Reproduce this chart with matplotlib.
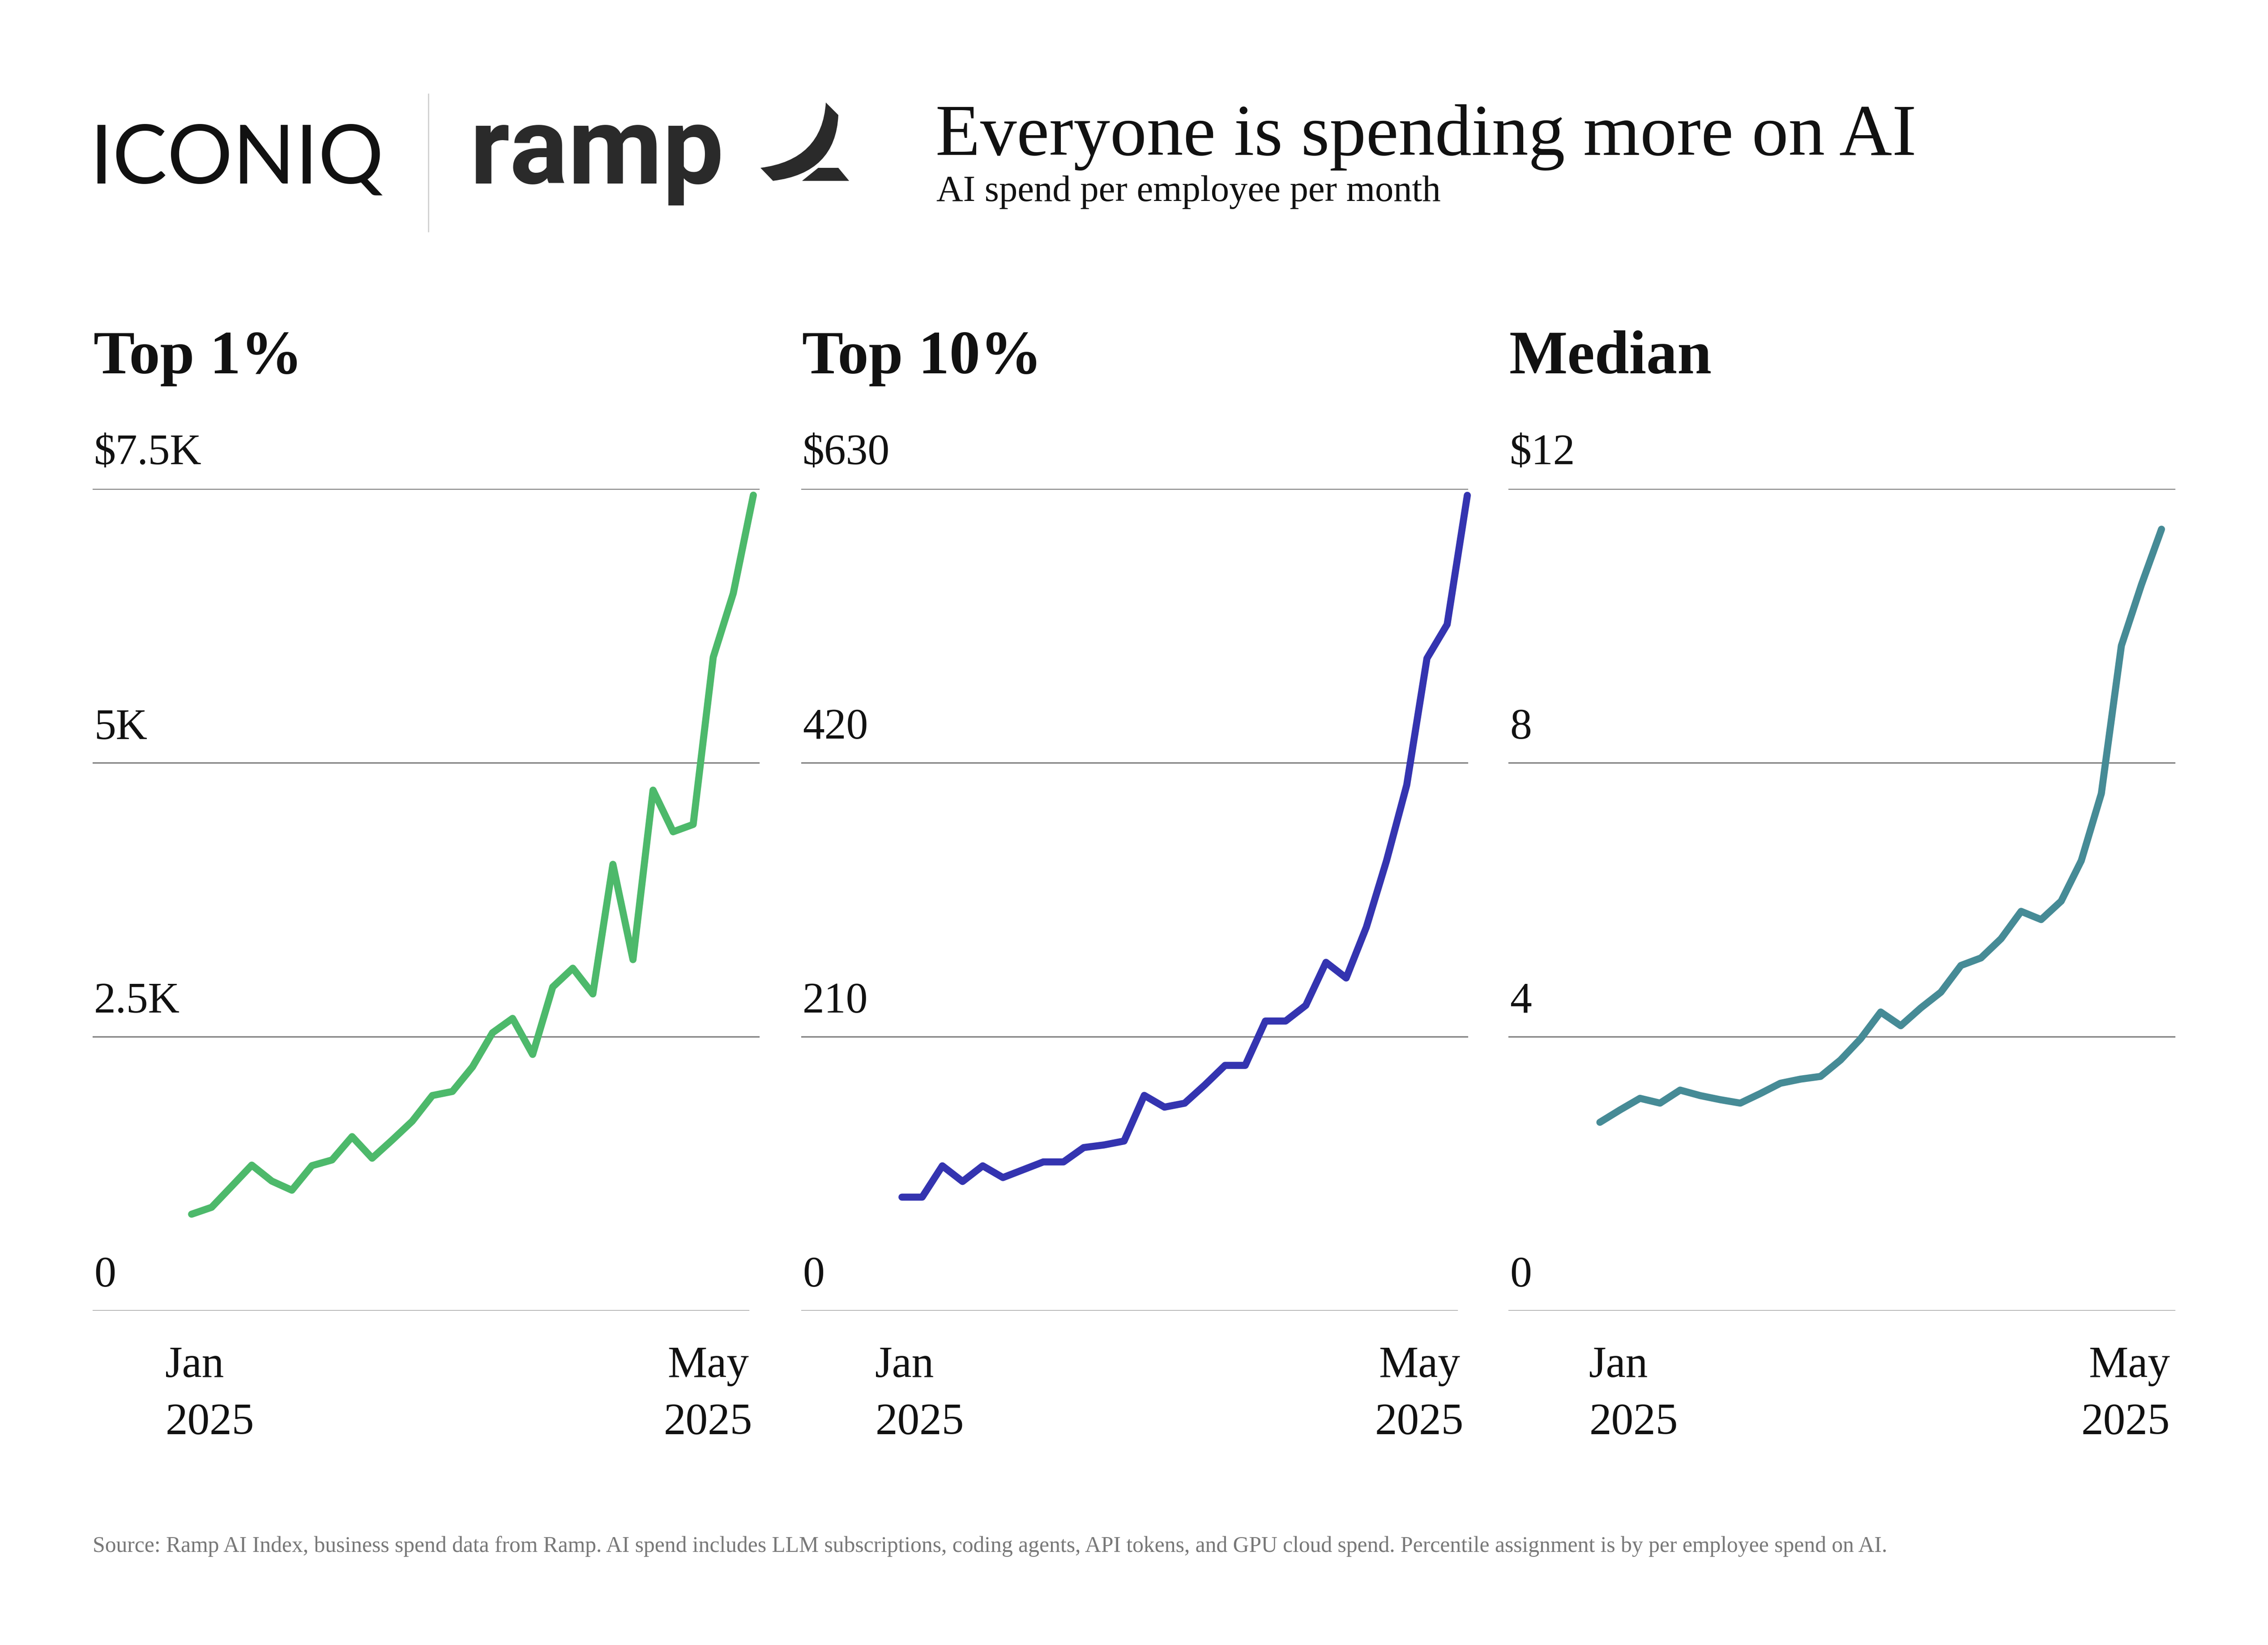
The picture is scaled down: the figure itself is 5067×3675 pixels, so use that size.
import numpy as np
import matplotlib.pyplot as plt
import matplotlib.transforms as mtransforms
from matplotlib.path import Path
from matplotlib.patches import PathPatch, Polygon

W, H = 5067, 3675
DPI = 325

# monthly AI spend per employee
top1 = [880, 943, 1135, 1328, 1182, 1099, 1323, 1375, 1588, 1391, 1557, 1729, 1963, 2000, 2224,
        2536, 2667, 2338, 2953, 3125, 2890, 4073, 3203, 4750, 4370, 4437, 5963, 6547, 7442]
top10 = [87, 87, 111, 99, 111, 102, 108, 114, 114, 125, 127, 130, 165, 156, 159,
         173, 188, 188, 222, 222, 234, 267, 255, 294, 345, 403, 500, 526, 625]
median = [2.75, 2.93, 3.10, 3.03, 3.22, 3.14, 3.08, 3.03, 3.17, 3.32, 3.38, 3.42, 3.66, 3.97, 4.36,
          4.16, 4.42, 4.65, 5.04, 5.15, 5.43, 5.83, 5.71, 5.98, 6.57, 7.55, 9.71, 10.6, 11.41]

series = [top1, top10, median]
panel_titles = ["Top 1%", "Top 10%", "Median"]
ytick_vals = [[0, 2500, 5000, 7500], [0, 210, 420, 630], [0, 4, 8, 12]]
ytick_labels = [["0", "2.5K", "5K", "$7.5K"], ["0", "210", "420", "$630"], ["0", "4", "8", "$12"]]
x_start = ("Jan", "2025")
x_end = ("May", "2025")
colors = ["#4db96b", "#3434b0", "#468b96"]

title = "Everyone is spending more on AI"
subtitle = "AI spend per employee per month"
source = ("Source: Ramp AI Index, business spend data from Ramp. AI spend includes LLM subscriptions, "
          "coding agents, API tokens, and GPU cloud spend. Percentile assignment is by per employee spend on AI.")

SERIF = "Liberation Serif"
INK = "#111111"


def fx(px):
    return px / W


def fy(py):
    return 1 - py / H


fig = plt.figure(figsize=(W / DPI, H / DPI), dpi=DPI)
fig.patch.set_facecolor("white")

# ---- header: logos + title
fig.text(fx(200), fy(410), "ICONIQ", family="Lato", fontsize=40.5, color=INK, va="baseline")
fig.add_artist(plt.Line2D([fx(957), fx(957)], [fy(210), fy(517)], color="#cfcfcf", lw=0.6))
fig.text(fx(1050), fy(410), "ramp", family="Roboto", weight="bold", fontsize=54,
         color="#2a2a2a", va="baseline")

logo = "#2a2a2a"
crescent = [(1845, 229), (1873, 257), (1867, 387), (1727, 404), (1699, 375), (1837, 357), (1845, 229)]
codes = [Path.MOVETO, Path.LINETO, Path.CURVE3, Path.CURVE3, Path.LINETO, Path.CURVE3, Path.CURVE3]
path = Path([(fx(a), fy(b)) for a, b in crescent], codes)
fig.add_artist(PathPatch(path, transform=fig.transFigure, facecolor=logo, edgecolor="none"))
trap = [(1792, 404), (1828, 375), (1873, 375), (1897, 404)]
fig.add_artist(Polygon([(fx(a), fy(b)) for a, b in trap], closed=True,
                       transform=fig.transFigure, facecolor=logo, edgecolor="none"))

fig.text(fx(2090), fy(346), title, family=SERIF, fontsize=36.2, color=INK, va="baseline")
fig.text(fx(2092), fy(449), subtitle, family=SERIF, fontsize=18.3, color=INK, va="baseline")

# ---- panels
lefts = [207, 1790, 3370]
ax_w = 1490
top_y, bot_y = 1092, 2928
xlims = [(-4.93, 28.31), (-4.99, 28.04), (-4.56, 28.69)]
base_end = [0.983, 0.983, 1.0]
start_frac = [0.109, 0.111, 0.121]
end_frac = [0.923, 0.927, 0.992]
end_ha = ["center", "center", "right"]

for i, vals in enumerate(series):
    left = lefts[i]
    ax = fig.add_axes([fx(left), fy(bot_y), ax_w / W, (bot_y - top_y) / H])
    ax.axis("off")
    x = np.arange(len(vals))
    ax.set_xlim(*xlims[i])
    ax.set_ylim(0, ytick_vals[i][-1])

    for v in ytick_vals[i][1:]:
        ax.axhline(v, color="#7a7a7a", lw=0.65, zorder=1)
    ax.axhline(0, xmax=base_end[i], color="#8e8e8e", lw=0.75, zorder=1)

    ax.plot(x, vals, color=colors[i], lw=3.5, solid_capstyle="round",
            solid_joinstyle="round", clip_on=False, zorder=3)

    trans = mtransforms.blended_transform_factory(ax.transAxes, ax.transData)
    trans = mtransforms.offset_copy(trans, fig=fig, y=54 / DPI, units="inches")
    for v, lab in zip(ytick_vals[i], ytick_labels[i]):
        ax.text(0.002, v, lab, transform=trans, family=SERIF, fontsize=21.6,
                color=INK, va="baseline", ha="left")

    fig.text(fx(left + 2), fy(834), panel_titles[i], family=SERIF, weight="bold",
             fontsize=30.6, color=INK, va="baseline")

    xs = fx(left + start_frac[i] * ax_w)
    xe = fx(left + end_frac[i] * ax_w)
    for line, yb in zip(range(2), [3076, 3203]):
        fig.text(xs, fy(yb), x_start[line], family=SERIF, fontsize=22, color=INK,
                 va="baseline", ha="left")
        fig.text(xe, fy(yb), x_end[line], family=SERIF, fontsize=22, color=INK,
                 va="baseline", ha=end_ha[i])

fig.text(fx(207), fy(3467), source, family=SERIF, fontsize=11.0, color="#787878", va="baseline")

fig.savefig("out.png", dpi=DPI, facecolor="white")
